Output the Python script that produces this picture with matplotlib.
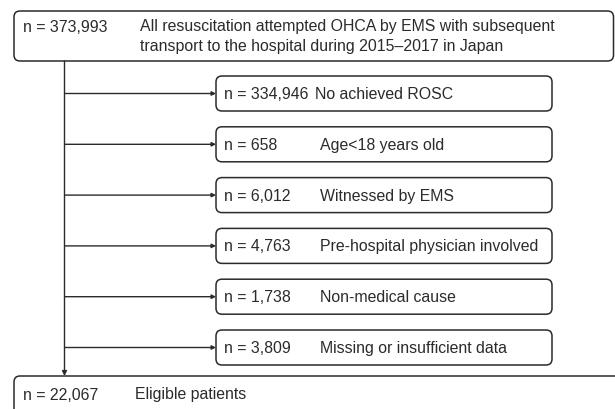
import matplotlib.pyplot as plt
from matplotlib.patches import FancyBboxPatch

plt.rcParams['font.family'] = ['Liberation Sans', 'DejaVu Sans']

# ---------- contenido del diagrama ----------
total_n = "n = 373,993"
total_lines = ["All resuscitation attempted OHCA by EMS with subsequent",
               "transport to the hospital during 2015\u20132017 in Japan"]
excl_n = ["n = 334,946", "n = 658", "n = 6,012", "n = 4,763", "n = 1,738", "n = 3,809"]
excl_label = ["No achieved ROSC", "Age<18 years old", "Witnessed by EMS",
              "Pre-hospital physician involved", "Non-medical cause",
              "Missing or insufficient data"]
final_n = "n = 22,067"
final_label = "Eligible patients"

ink = "#2b2b2b"
fs = 11.45

fig = plt.figure(figsize=(6.15, 4.09), dpi=100)
ax = fig.add_axes([0, 0, 1, 1])
ax.set_xlim(0, 615)
ax.set_ylim(409, 0)
ax.axis("off")


def rbox(x0, y0, x1, y1):
    p = FancyBboxPatch((x0, y0), x1 - x0, y1 - y0,
                       boxstyle="round,pad=0,rounding_size=6",
                       fc="white", ec=ink, lw=1.1, clip_on=False)
    ax.add_patch(p)


# caja superior
rbox(14, 11, 613.5, 61)
ax.text(23, 27, total_n, fontsize=fs, color=ink, va="center")
for i, line in enumerate(total_lines):
    ax.text(140, 27 + 19 * i, line, fontsize=fs, color=ink, va="center")

# linea vertical principal
trunk_x = 64.5
ax.annotate("", xy=(trunk_x, 376), xytext=(trunk_x, 61),
            arrowprops=dict(arrowstyle="-|>", color=ink, lw=1.0,
                            mutation_scale=7, shrinkA=0, shrinkB=0))

# cajas de exclusion
for i, (n, lab) in enumerate(zip(excl_n, excl_label)):
    top = 76 + 50.8 * i
    bot = top + 35
    mid = (top + bot) / 2
    rbox(216, top, 552, bot)
    ax.annotate("", xy=(216, mid), xytext=(trunk_x, mid),
                arrowprops=dict(arrowstyle="-|>", color=ink, lw=1.0,
                                mutation_scale=6, shrinkA=0, shrinkB=0))
    ax.text(224, mid + 1, n, fontsize=fs, color=ink, va="center")
    lx = 315 if i == 0 else 320
    ax.text(lx, mid + 1, lab, fontsize=fs, color=ink, va="center")

# caja final
rbox(14, 376, 640, 430)
ax.text(23, 395, final_n, fontsize=fs, color=ink, va="center")
ax.text(135, 395, final_label, fontsize=fs, color=ink, va="center")

fig.savefig("out.png", dpi=100)
